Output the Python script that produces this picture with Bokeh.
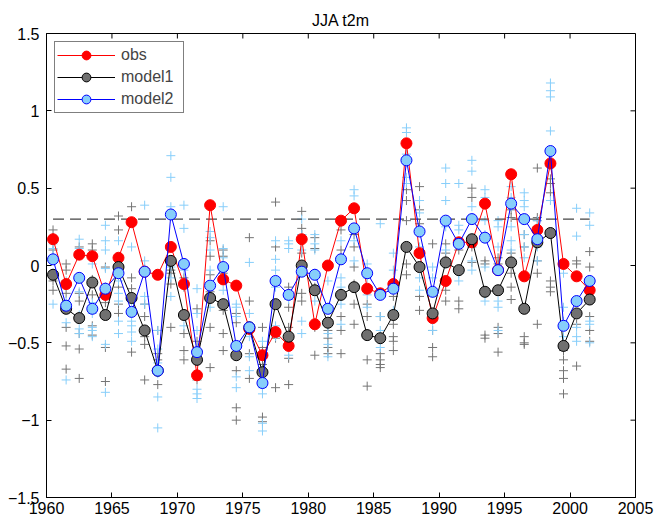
from bokeh.plotting import figure
from bokeh.models import Range1d, FixedTicker, Legend, LegendItem
from bokeh.embed import file_html
from bokeh.resources import INLINE

# ---------------- data ----------------
years = [1960.5, 1961.5, 1962.5, 1963.5, 1964.5, 1965.5, 1966.5, 1967.5, 1968.5, 1969.5,
         1970.5, 1971.5, 1972.5, 1973.5, 1974.5, 1975.5, 1976.5, 1977.5, 1978.5, 1979.5,
         1980.5, 1981.5, 1982.5, 1983.5, 1984.5, 1985.5, 1986.5, 1987.5, 1988.5, 1989.5,
         1990.5, 1991.5, 1992.5, 1993.5, 1994.5, 1995.5, 1996.5, 1997.5, 1998.5, 1999.5,
         2000.5, 2001.5]

obs = [0.17, -0.12, 0.07, 0.06, -0.19, 0.05, 0.28, -0.04, -0.06, 0.12,
       -0.12, -0.71, 0.39, -0.09, -0.13, -0.41, -0.58, -0.43, -0.52, 0.17,
       -0.38, 0.00, 0.29, 0.37, -0.15, -0.18, -0.12, 0.79, 0.08, -0.34,
       -0.10, 0.15, 0.15, 0.40, -0.03, 0.59, -0.07, 0.23, 0.66, 0.01,
       -0.07, -0.16]

model1 = [-0.06, -0.28, -0.34, -0.11, -0.32, -0.01, -0.21, -0.42, -0.68, 0.03,
          -0.32, -0.61, -0.21, -0.25, -0.58, -0.40, -0.69, -0.25, -0.46, 0.00,
          -0.16, -0.37, -0.19, -0.14, -0.45, -0.47, -0.32, 0.12, -0.01, -0.31,
          0.02, -0.03, 0.17, -0.17, -0.16, 0.02, -0.28, 0.15, 0.21, -0.52,
          -0.31, -0.22]

model2 = [0.04, -0.26, -0.08, -0.28, -0.15, -0.05, -0.30, -0.04, -0.68, 0.33,
          0.01, -0.56, -0.13, -0.01, -0.52, -0.40, -0.76, -0.10, -0.19, -0.04,
          -0.06, -0.28, 0.04, 0.24, -0.05, -0.19, -0.15, 0.68, 0.22, -0.17,
          0.29, 0.14, 0.30, 0.18, -0.03, 0.40, 0.30, 0.17, 0.74, -0.39,
          -0.23, -0.10]

model1_members = [
    [0.23, 0.18, 0.10, -0.10, -0.16],
    [0.01, -0.03, -0.18, -0.40, -0.52, -0.67],
    [0.12, -0.18, -0.23, -0.44, -0.54, -0.73],
    [0.14, 0.10, -0.09, -0.19, -0.39, -0.45],
    [-0.01, -0.14, -0.24, -0.53, -0.75],
    [0.32, 0.23, -0.01, -0.14, -0.25, -0.31],
    [0.38, -0.08, -0.15, -0.30, -0.56],
    [-0.25, -0.33, -0.46, -0.51, -0.74],
    [-0.42, -0.57, -0.61, -0.66, -0.77],
    [-0.03, -0.05, -0.12, -0.40],
    [-0.08, -0.14, -0.44, -0.55, -0.61],
    [-0.28, -0.49, -0.57, -0.61, -0.74],
    [0.16, 0.06, -0.06, -0.17, -0.40, -0.66],
    [0.10, 0.06, -0.05, -0.29, -0.44, -0.55],
    [-0.31, -0.37, -0.57, -0.68, -0.92, -1.00],
    [0.18, -0.23, -0.39, -0.57, -0.73],
    [-0.40, -0.53, -0.64, -0.98, -1.01],
    [0.41, 0.12, -0.47, -0.79],
    [-0.14, -0.27, -0.40, -0.60, -0.77],
    [0.35, 0.24, 0.20, 0.08, -0.18, -0.23],
    [0.18, 0.11, -0.14, -0.40, -0.58],
    [-0.27, -0.42, -0.47, -0.53, -0.57],
    [0.23, 0.10, -0.18, -0.33, -0.42, -0.57],
    [0.20, 0.12, -0.01, -0.12, -0.25, -0.38],
    [-0.25, -0.33, -0.44, -0.61, -0.78],
    [-0.33, -0.57, -0.61, -0.64, -0.66],
    [-0.20, -0.38, -0.46, -0.49, -0.55],
    [0.49, 0.42, 0.29, 0.01, -0.06],
    [0.51, 0.36, 0.27, -0.20, -0.29],
    [0.14, -0.42, -0.53, -0.59],
    [0.14, 0.08, 0.03, -0.16, -0.23],
    [0.14, 0.10, -0.23, -0.28],
    [0.50, 0.44, 0.16, 0.12, 0.02],
    [0.03, 0.01, -0.45, -0.47],
    [0.05, 0.01, -0.40, -0.44, -0.56],
    [0.36, 0.31, 0.08, -0.05, -0.14, -0.22],
    [0.20, 0.12, -0.46, -0.50, -0.51],
    [0.63, 0.31, 0.29, 0.03, -0.05, -0.38],
    [0.56, 0.53, 0.47, -0.10, -0.14, -0.17],
    [-0.55, -0.61, -0.68, -0.73, -0.83],
    [0.03, 0.01, -0.38, -0.65],
    [0.09, -0.01, -0.33, -0.42, -0.49],
]

model2_members = [
    [0.14, 0.11, 0.06, -0.05, -0.25],
    [-0.10, -0.23, -0.27, -0.37, -0.74],
    [0.17, 0.11, -0.17, -0.32, -0.41, -0.44],
    [0.01, -0.24, -0.31, -0.40, -0.42, -0.46],
    [0.26, 0.16, 0.10, -0.02, -0.51, -0.82],
    [0.16, -0.10, -0.18, -0.23, -0.36, -0.44],
    [0.12, -0.23, -0.36, -0.39, -0.43, -0.49],
    [0.39, 0.03, -0.02, -0.20, -0.25],
    [-0.42, -0.54, -0.63, -0.70, -0.85, -1.05],
    [0.71, 0.57, 0.38, -0.01, -0.08, -0.20],
    [0.39, 0.24, -0.03, -0.12, -0.39],
    [-0.15, -0.31, -0.42, -0.80, -0.83, -0.86],
    [0.22, 0.18, 0.10, -0.03, -0.20, -0.27],
    [0.38, 0.11, 0.05, -0.10, -0.16],
    [-0.25, -0.27, -0.33, -0.53, -0.72, -0.79],
    [0.02, -0.31, -0.46, -0.59, -0.68],
    [-0.49, -0.68, -0.79, -0.83, -1.02, -1.07],
    [0.16, 0.04, -0.03, -0.14, -0.39, -0.46],
    [0.16, 0.14, 0.11, -0.22, -0.58],
    [0.30, 0.20, 0.10, -0.36, -0.44],
    [0.20, 0.14, 0.10, -0.05, -0.23],
    [-0.10, -0.38, -0.44, -0.51, -0.59],
    [0.16, -0.08, -0.14, -0.25, -0.38],
    [0.49, 0.45, 0.16, 0.03],
    [0.01, -0.08, -0.16, -0.19, -0.27],
    [0.27, -0.18, -0.33, -0.42, -0.53],
    [0.08, -0.03, -0.12, -0.16, -0.29],
    [0.89, 0.86, 0.72, 0.57, 0.53],
    [0.42, 0.34, 0.12, -0.08, -0.16],
    [-0.01, -0.08, -0.18, -0.36, -0.42],
    [0.63, 0.53, 0.42, 0.25, 0.10, 0.01],
    [0.53, 0.26, 0.23, -0.05, -0.10],
    [0.68, 0.61, 0.38, 0.31, 0.03, -0.03],
    [0.49, 0.44, 0.29, 0.20, -0.01, -0.18, -0.23],
    [0.29, 0.25, 0.12, -0.23, -0.27, -0.42],
    [0.51, 0.44, 0.38, 0.25, 0.16, 0.10],
    [0.47, 0.42, 0.38, 0.20, 0.12, 0.05],
    [0.29, 0.25, 0.16, 0.12, 0.03],
    [1.18, 1.13, 1.09, 0.87, 0.66, 0.42],
    [-0.05, -0.27, -0.36, -0.46],
    [0.37, 0.19, -0.40, -0.46, -0.49],
    [0.34, 0.26, -0.36, -0.38, -0.50],
]

threshold = 0.3
x_ticks = [1960, 1965, 1970, 1975, 1980, 1985, 1990, 1995, 2000, 2005]
y_ticks = [-1.5, -1, -0.5, 0, 0.5, 1, 1.5]
y_tick_labels = {"-1.5": "\u22121.5", "-1": "\u22121", "-0.5": "\u22120.5"}
title_text = "JJA t2m"
series_labels = ["obs", "model1", "model2"]

# ---------------- figure ----------------
FONT = "Liberation Sans"
W, H = 655, 519
ML, MR, MT, MB = 46, 20, 33, 22
TICK = 5  # px, ticks drawn inward

p = figure(width=W, height=H,
           x_range=Range1d(x_ticks[0], x_ticks[-1]),
           y_range=Range1d(y_ticks[0], y_ticks[-1]),
           output_backend="svg", toolbar_location=None,
           min_border_left=ML, min_border_right=MR,
           min_border_top=MT, min_border_bottom=MB)
p.grid.visible = False
p.outline_line_color = "black"
p.outline_line_width = 1
p.background_fill_color = "white"
p.border_fill_color = "white"

p.title.text = title_text
p.title.align = "center"
p.title.text_font = FONT
p.title.text_font_size = "16px"
p.title.text_font_style = "normal"
p.title.text_color = "black"

for ax in (p.xaxis[0], p.yaxis[0]):
    ax.major_tick_in = TICK
    ax.major_tick_out = 0
    ax.minor_tick_in = 0
    ax.minor_tick_out = 0
    ax.axis_line_color = "black"
    ax.major_tick_line_color = "black"
    ax.major_label_text_font = FONT
    ax.major_label_text_font_size = "16px"
    ax.major_label_text_color = "black"
p.xaxis[0].ticker = FixedTicker(ticks=x_ticks)
p.yaxis[0].ticker = FixedTicker(ticks=y_ticks)
p.yaxis[0].major_label_overrides = y_tick_labels
p.xaxis[0].major_label_standoff = 4
p.yaxis[0].major_label_standoff = 7

# inward ticks on the top and right edges of the box (MATLAB style)
fw = W - ML - MR
fh = H - MT - MB
dx = TICK * (x_ticks[-1] - x_ticks[0]) / fw
dy = TICK * (y_ticks[-1] - y_ticks[0]) / fh
p.segment(x0=x_ticks, y0=[y_ticks[-1]] * len(x_ticks),
          x1=x_ticks, y1=[y_ticks[-1] - dy] * len(x_ticks),
          line_color="black", line_width=1)
p.segment(x0=[x_ticks[-1]] * len(y_ticks), y0=y_ticks,
          x1=[x_ticks[-1] - dx] * len(y_ticks), y1=y_ticks,
          line_color="black", line_width=1)

# ensemble members
m1x = [years[i] for i, vals in enumerate(model1_members) for _ in vals]
m1y = [v for vals in model1_members for v in vals]
m2x = [years[i] for i, vals in enumerate(model2_members) for _ in vals]
m2y = [v for vals in model2_members for v in vals]
p.scatter(m1x, m1y, marker="cross", size=9, line_color="#747474", line_width=1)
p.scatter(m2x, m2y, marker="cross", size=9, line_color="#87cefa", line_width=1)

# threshold dashed line
p.line([years[0], years[-1]], [threshold, threshold], line_color="#444444",
       line_width=1.3, line_dash="11 6")

# series
l_obs = p.line(years, obs, line_color="#ff0000", line_width=1)
s_obs = p.scatter(years, obs, size=11, fill_color="#ff0000", line_color="#ff0000")
l_m1 = p.line(years, model1, line_color="#000000", line_width=1)
s_m1 = p.scatter(years, model1, size=11, fill_color="#707070", line_color="#000000")
l_m2 = p.line(years, model2, line_color="#0000ff", line_width=1)
s_m2 = p.scatter(years, model2, size=11, fill_color="#87cefa", line_color="#0000ff")

legend = Legend(items=[
    LegendItem(label=series_labels[0], renderers=[l_obs, s_obs]),
    LegendItem(label=series_labels[1], renderers=[l_m1, s_m1]),
    LegendItem(label=series_labels[2], renderers=[l_m2, s_m2]),
], location="top_left")
legend.margin = 8
legend.padding = 2
legend.spacing = -1
legend.glyph_width = 58
legend.glyph_height = 22
legend.label_height = 22
legend.label_width = 60
legend.label_standoff = 6
legend.label_text_font = FONT
legend.label_text_font_size = "16px"
legend.border_line_color = "black"
legend.border_line_width = 1
legend.background_fill_color = "white"
legend.background_fill_alpha = 1
p.add_layout(legend)

open("out.html", "w").write(file_html(p, INLINE))
